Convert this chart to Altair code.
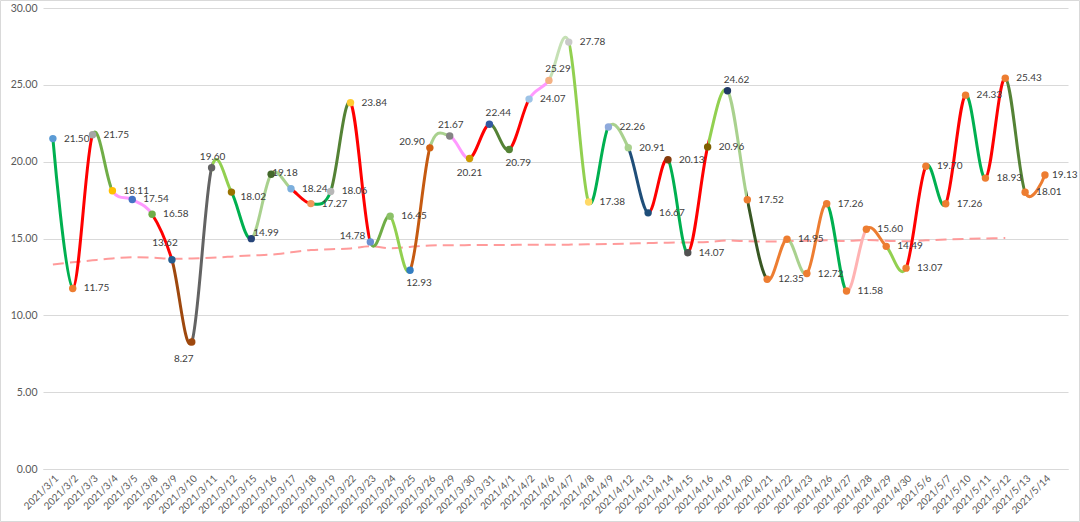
import altair as alt
import pandas as pd

# ---------------- data ----------------
dates = ["2021/3/1", "2021/3/2", "2021/3/3", "2021/3/4", "2021/3/5", "2021/3/8", "2021/3/9",
         "2021/3/10", "2021/3/11", "2021/3/12", "2021/3/15", "2021/3/16", "2021/3/17", "2021/3/18",
         "2021/3/19", "2021/3/22", "2021/3/23", "2021/3/24", "2021/3/25", "2021/3/26", "2021/3/29",
         "2021/3/30", "2021/3/31", "2021/4/1", "2021/4/2", "2021/4/6", "2021/4/7", "2021/4/8",
         "2021/4/9", "2021/4/12", "2021/4/13", "2021/4/14", "2021/4/15", "2021/4/16", "2021/4/19",
         "2021/4/20", "2021/4/21", "2021/4/22", "2021/4/23", "2021/4/26", "2021/4/27", "2021/4/28",
         "2021/4/29", "2021/4/30", "2021/5/6", "2021/5/7", "2021/5/10", "2021/5/11", "2021/5/12",
         "2021/5/13", "2021/5/14"]

values = [21.50, 11.75, 21.75, 18.11, 17.54, 16.58, 13.62, 8.27, 19.60, 18.02, 14.99, 19.18, 18.24,
          17.27, 18.06, 23.84, 14.78, 16.45, 12.93, 20.90, 21.67, 20.21, 22.44, 20.79, 24.07, 25.29,
          27.78, 17.38, 22.26, 20.91, 16.67, 20.13, 14.07, 20.96, 24.62, 17.52, 12.35, 14.95, 12.72,
          17.26, 11.58, 15.60, 14.49, 13.07, 19.70, 17.26, 24.33, 18.93, 25.43, 18.01, 19.13]

# dashed reference series (3/1 .. 5/12)
avg_values = [13.31, 13.45, 13.58, 13.70, 13.78, 13.76, 13.68, 13.70, 13.75, 13.82, 13.90, 13.95,
              14.10, 14.25, 14.30, 14.35, 14.50, 14.36, 14.45, 14.55, 14.56, 14.57, 14.58, 14.58,
              14.60, 14.60, 14.60, 14.62, 14.64, 14.67, 14.70, 14.73, 14.74, 14.77, 14.87, 14.82,
              14.80, 14.83, 14.85, 14.88, 14.84, 14.90, 14.85, 14.82, 14.88, 14.93, 14.97, 15.00,
              15.03]

# ---------------- styles ----------------
G, R, OL, PK, LG, PG, DG, OR = "#00B050", "#FF0000", "#70AD47", "#FF99FF", "#92D050", "#A9D18E", "#548235", "#ED7D31"
segment_colors = [G, R, OL, PK, PK, R, "#9E480E", "#636363", LG, G,
                  PG, PG, R, G, DG, R, OL, LG, "#C55A11", PG,
                  PK, R, DG, R, PK, "#C5E0B4", LG, G, PG, "#1F4E79",
                  R, G, R, LG, PG, "#385723", OR, PG, OR, G,
                  "#FFB3B3", OR, LG, R, G, R, G, R, DG, OR]

point_colors = ["#5B9BD5", "#ED7D31", "#A5A5A5", "#FFC000", "#4472C4", "#70AD47", "#255E91",
                "#9E480E", "#636363", "#997300", "#264478", "#43682B", "#7CAFDD", "#F1975A",
                "#B7B7B7", "#FFCD33", "#698ED0", "#8CC168", "#327DC2", "#D26012", "#848484",
                "#CC9A00", "#335AA1", "#548235", "#9DC3E6", "#F4B183", "#C9C9C9", "#FFD966",
                "#8FAADC", "#A9D18E", "#1F4E79", "#843C0C", "#525252", "#7F6000", "#203864"] + \
               ["#ED7D31"] * 16

label_pos = ["r", "r", "r", "r", "r", "r", "al", "bl", "a", "rb", "ra", "r0", "r", "r", "r", "r",
             "la", "r", "br", "la", "a", "b", "ar", "br", "r", "ar", "r", "r", "r", "r", "r", "r",
             "r", "r", "ar", "r", "r", "r", "r", "r", "r", "r", "r", "r", "r", "r", "r", "r", "r",
             "r", "rn"]

pos_style = {
    "r": dict(dx=11, dy=0, align="left"),
    "rn": dict(dx=7, dy=0, align="left"),
    "r0": dict(dx=1, dy=-1, align="left"),
    "rb": dict(dx=9, dy=5, align="left"),
    "ra": dict(dx=2, dy=-6, align="left"),
    "l": dict(dx=-11, dy=0, align="right"),
    "la": dict(dx=-5, dy=-6, align="right"),
    "a": dict(dx=1, dy=-11, align="center"),
    "ar": dict(dx=9, dy=-11, align="center"),
    "al": dict(dx=-7, dy=-17, align="center"),
    "b": dict(dx=0, dy=15, align="center"),
    "br": dict(dx=9, dy=13, align="center"),
    "bl": dict(dx=-8, dy=17, align="center"),
}

FONT = "Lato"
TXT = "#404040"

df = pd.DataFrame({
    "date": dates,
    "value": values,
    "pcolor": point_colors,
    "pos": label_pos,
})
df["label"] = df["value"].map(lambda v: f"{v:.2f}")
df_avg = pd.DataFrame({"date": dates[:len(avg_values)], "avg": avg_values})

n = len(dates)
stops = []
for i, c in enumerate(segment_colors):
    stops.append({"offset": i / (n - 1), "color": c})
    stops.append({"offset": (i + 1) / (n - 1), "color": c})
gradient = {"gradient": "linear", "x1": 0, "x2": 1, "y1": 0, "y2": 0, "stops": stops}

x_enc = alt.X("date:N", sort=dates, title=None,
              scale=alt.Scale(type="point", padding=0.83, align=0.3),
              axis=alt.Axis(labelAngle=-45, labelFontSize=10, labelColor="#595959", labelFont=FONT,
                            ticks=False, domainColor="#D9D9D9", labelPadding=4, grid=False))
y_scale = alt.Scale(domain=[0, 30], nice=False, zero=True)
y_axis = alt.Axis(values=[0, 5, 10, 15, 20, 25, 30], format=".2f", title=None, domain=False,
                  ticks=False, gridColor="#D9D9D9", labelFontSize=10.5, labelColor="#595959",
                  labelFont=FONT, labelPadding=6)

base = alt.Chart(df)

frame = alt.Chart(df).mark_rect(fillOpacity=0, stroke="#D9D9D9", strokeWidth=1).encode(
    x=alt.value(-42.5), x2=alt.value(1036.5), y=alt.value(-7.5), y2=alt.value(513.5)
).transform_filter(alt.datum.date == dates[0])

avg_line = alt.Chart(df_avg).mark_line(
    interpolate="cardinal", color="#FF9090", strokeWidth=2, strokeDash=[11, 6], opacity=0.9
).encode(x=x_enc, y=alt.Y("avg:Q", scale=y_scale, axis=y_axis))

main_line = base.mark_line(interpolate="cardinal", strokeWidth=3, color=gradient).encode(
    x=x_enc, y=alt.Y("value:Q", scale=y_scale, axis=y_axis)
)

points = base.mark_circle(size=55, opacity=1).encode(
    x=x_enc, y=alt.Y("value:Q", scale=y_scale),
    color=alt.Color("pcolor:N", scale=None, legend=None)
)

text_layers = []
for code, st in pos_style.items():
    if code not in label_pos:
        continue
    t = base.transform_filter(alt.datum.pos == code).mark_text(
        font=FONT, fontSize=10, color=TXT, baseline="middle", **st
    ).encode(x=x_enc, y=alt.Y("value:Q", scale=y_scale), text="label:N")
    text_layers.append(t)

chart = alt.layer(frame, avg_line, main_line, points, *text_layers).properties(
    width=1025, height=461,
    autosize=alt.AutoSizeParams(type="none"),
    padding={"left": 43, "top": 8, "right": 12, "bottom": 53},
    background="white",
).configure_view(stroke=None)

chart.save("out.html", embed_options={"renderer": "svg", "actions": False})
